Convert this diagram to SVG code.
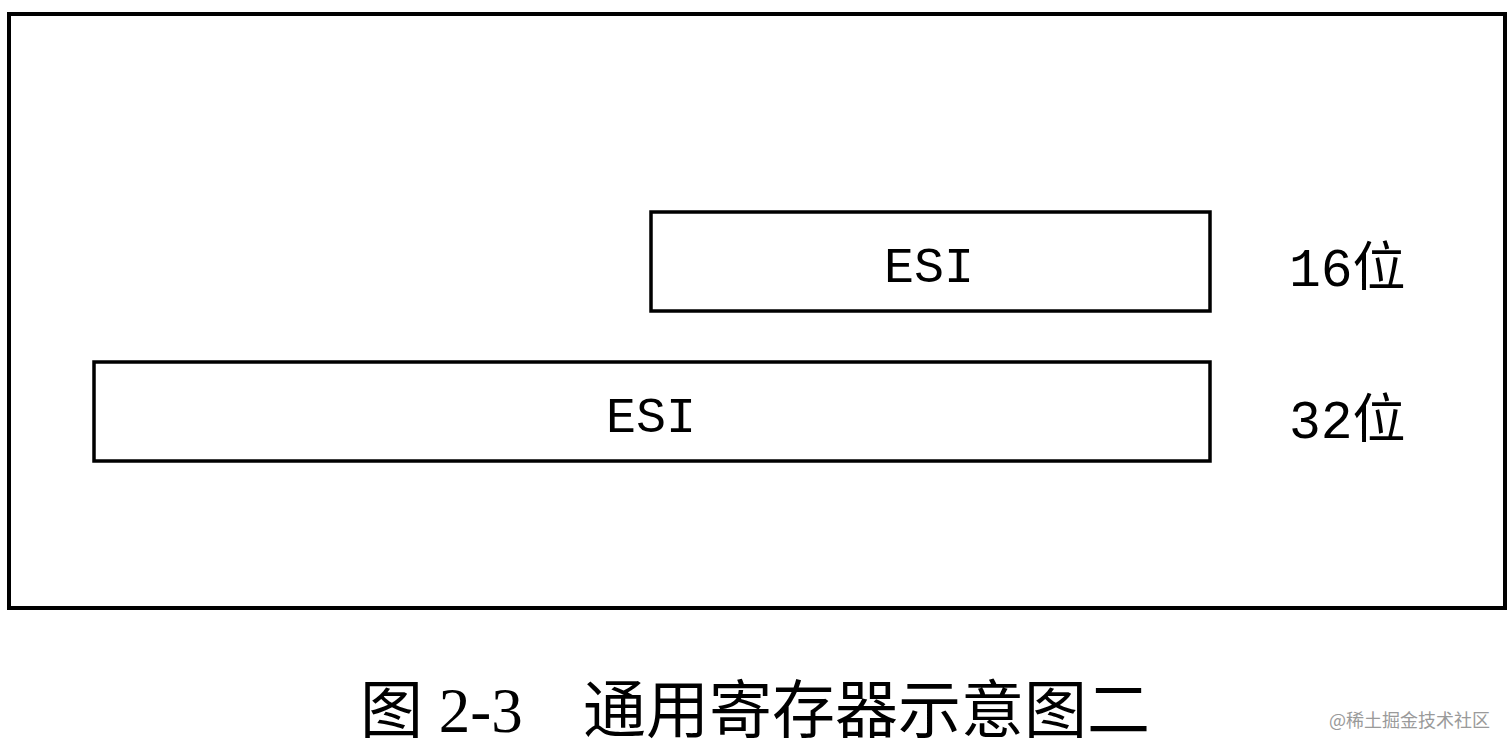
<svg xmlns="http://www.w3.org/2000/svg" width="1512" height="753" viewBox="0 0 1512 753">
<style>
.box{fill:#fff;stroke:#000;stroke-width:3.5}
.reg{font-family:"Liberation Mono","Noto Sans CJK SC",monospace;font-size:50px;fill:#000;text-anchor:middle}
.lbl{font-family:"Liberation Mono","Noto Sans CJK SC",monospace;font-size:53px;fill:#000}
.cap{font-family:"Liberation Serif","Noto Sans CJK SC",serif;font-size:63px;fill:#000}
.wm{font-family:"Noto Sans CJK SC",sans-serif;font-size:18px;fill:#9a9a9a}
</style>
<rect width="1512" height="753" fill="#fff"/>
<g id="frame"><rect x="9" y="14" width="1496" height="594" fill="#fff" stroke="#000" stroke-width="4"/></g>
<g id="esi16"><rect class="box" x="651" y="212" width="559" height="99"/><text class="reg" x="929" y="282">ESI</text></g>
<g id="esi32"><rect class="box" x="94" y="362" width="1116" height="99"/><text class="reg" x="651" y="432">ESI</text></g>
<g id="lbl16"><text class="lbl" x="1289" y="286">16位</text></g>
<g id="lbl32"><text class="lbl" x="1289" y="438">32位</text></g>
<g id="connectors"></g>
<g id="caption"><text class="cap" x="360" y="732">图 2-3</text><text class="cap" x="583" y="732">通用寄存器示意图二</text></g>
<text class="wm" x="1329" y="727">@稀土掘金技术社区</text>
</svg>
